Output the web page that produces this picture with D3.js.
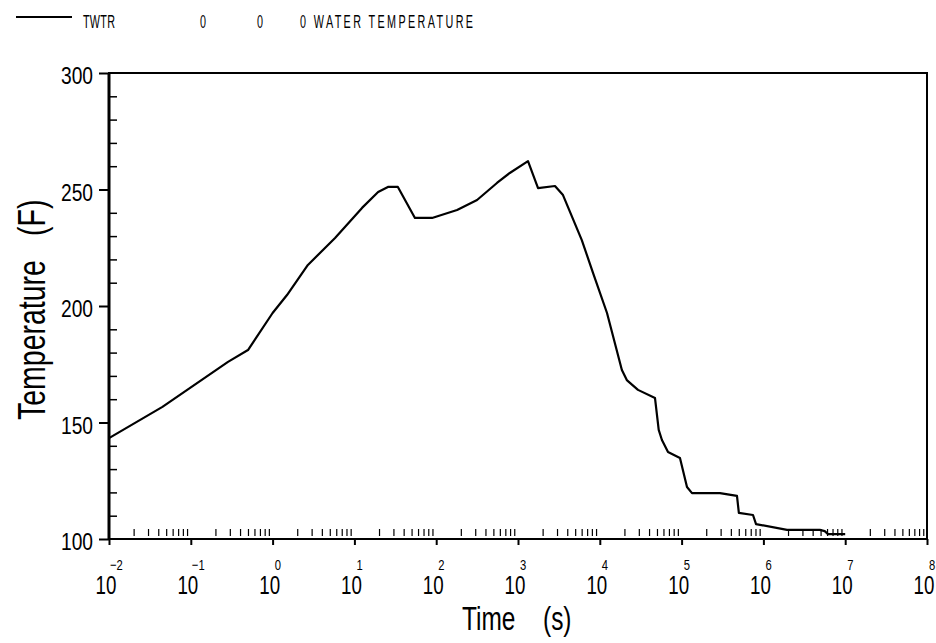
<!DOCTYPE html>
<html>
<head>
<meta charset="utf-8">
<script src="https://cdn.jsdelivr.net/npm/d3@7"></script>
<style>
  body { margin: 0; background: #fff; }
  svg { display: block; }
  text { font-family: "Liberation Sans", Arial, sans-serif; fill: #000; }
</style>
</head>
<body>
<svg id="chart" width="936" height="643"></svg>
<script>
// time (s), water temperature (F)
const timeValues = [0.01, 0.045, 0.285, 0.5, 1.0, 1.5, 2.7, 5.8, 12.4, 19.5, 25.7, 34,
  55, 89, 180, 316, 553, 794, 1325, 1758, 2831, 3548, 6026, 8260, 12250, 18620, 21380,
  29300, 47300, 52500, 57500, 68200, 95500, 116400, 134000, 294400, 475300, 501200,
  746400, 812800, 1945000, 4898000, 5620000, 6166000, 10000000]
const tempValues = [143.3, 156.7, 176.0, 181.1, 197.0, 204.7, 217.6, 229.2, 242.1, 248.9, 251.1, 251.1,
  237.8, 237.8, 241.2, 245.5, 252.8, 257.1, 262.2, 250.6, 251.5, 247.6, 228.3, 214.2, 197.0, 172.5, 168.2,
  164.0, 160.5, 146.8, 142.5, 137.3, 134.8, 122.3, 119.7, 119.7, 118.5, 111.2,
  110.3, 106.4, 103.9, 103.9, 103.4, 102.1, 102.1]

const yMajor = [100, 150, 200, 250, 300]
const yMinor = [110, 120, 130, 140, 160, 170, 180, 190, 210, 220, 230, 240, 260, 270, 280, 290]
const xExponents = [-2, -1, 0, 1, 2, 3, 4, 5, 6, 7, 8]
const xMinorMult = [2, 3, 4, 5, 6, 7, 8, 9]

const legendLabels = ['TWTR', '0', '0', '0 WATER TEMPERATURE']

const PLOT = {left: 109, right: 927, top: 73, bottom: 539}
const SQUEEZE = 0.72   // the plotter font is much narrower than Arial
const XS = 0.75        // squeeze for the 10^n labels

let svg = d3.select('#chart')

let x = d3.scaleLog()
  .domain([1e-2, 1e8])
  .range([PLOT.left, PLOT.right])

let y = d3.scaleLinear()
  .domain([100, 300])
  .range([PLOT.bottom, PLOT.top])

// legend / header line
svg.append('line')
  .attr('x1', 16).attr('x2', 72)
  .attr('y1', 17).attr('y2', 17)
  .attr('stroke', '#000')
  .attr('stroke-width', 2)

let legendX = [83, 200, 257, 300]
let legendW = [32, 7, 7, 173]
svg.selectAll('.legend')
  .data(legendLabels)
  .enter().append('text')
  .attr('class', 'legend')
  .attr('transform', 'scale(0.6,1)')
  .attr('x', (d, i) => legendX[i] / 0.6)
  .attr('y', 28)
  .attr('font-size', 18)
  .attr('textLength', (d, i) => legendW[i] / 0.6)
  .attr('lengthAdjust', 'spacing')
  .text(d => d)

// frame
svg.append('rect')
  .attr('x', PLOT.left).attr('y', PLOT.top)
  .attr('width', PLOT.right - PLOT.left)
  .attr('height', PLOT.bottom - PLOT.top)
  .attr('fill', 'none')
  .attr('stroke', '#000')
  .attr('stroke-width', 2)

svg.append('line')
  .attr('x1', PLOT.left).attr('x2', PLOT.left)
  .attr('y1', PLOT.top).attr('y2', PLOT.bottom)
  .attr('stroke', '#000')
  .attr('stroke-width', 3)

// y axis, majors outside with labels
let yAxis = svg.append('g')
  .attr('transform', 'translate(' + PLOT.left + ',0)')
  .call(d3.axisLeft(y).tickValues(yMajor).tickSize(10).tickPadding(5).tickFormat(d3.format('d')))
yAxis.select('.domain').remove()
yAxis.selectAll('.tick line').attr('stroke-width', 2)
yAxis.selectAll('text')
  .attr('font-size', 24)
  .attr('font-family', '"Liberation Sans", Arial, sans-serif')
  .attr('x', -16 / 0.8)
  .attr('transform', 'scale(0.8,1)')
  .attr('dy', '0.45em')

// y minor ticks inside
let yMinorAxis = svg.append('g')
  .attr('transform', 'translate(' + PLOT.left + ',0)')
  .call(d3.axisRight(y).tickValues(yMinor).tickSize(8).tickFormat(''))
yMinorAxis.select('.domain').remove()
yMinorAxis.selectAll('.tick line').attr('stroke-width', 1.5)

// x axis major ticks
let xMajor = xExponents.map(e => Math.pow(10, e))
let xAxis = svg.append('g')
  .attr('transform', 'translate(0,' + PLOT.bottom + ')')
  .call(d3.axisBottom(x).tickValues(xMajor).tickSize(6).tickFormat(''))
xAxis.select('.domain').remove()
xAxis.selectAll('.tick line').attr('stroke-width', 2)

// x minor ticks, a little above the axis line
let xMinor = []
xExponents.slice(0, -1).forEach(e => {
  xMinorMult.forEach(m => xMinor.push(m * Math.pow(10, e)))
})
let xMinorAxis = svg.append('g')
  .attr('transform', 'translate(0,' + (PLOT.bottom - 3) + ')')
  .call(d3.axisTop(x).tickValues(xMinor).tickSize(7).tickFormat(''))
xMinorAxis.select('.domain').remove()
xMinorAxis.selectAll('.tick line').attr('stroke-width', 1.2)

// x tick labels: 10 with raised exponent, one text each
let xl = svg.selectAll('.xlab')
  .data(xExponents)
  .enter().append('text')
  .attr('class', 'xlab')
  .attr('transform', d => 'translate(' + x(Math.pow(10, d)) + ',0) scale(' + XS + ',1)')
  .attr('x', -13.4 / XS)
  .attr('y', 594)
  .attr('font-size', 25)

xl.append('tspan')
  .text('10')

xl.append('tspan')
  .attr('dx', d => (d < 0 ? -6.4 : -5.4) / XS)
  .attr('dy', -24)
  .attr('font-size', 15)
  .text(d => d < 0 ? '\u2212' + (-d) : d)

// axis titles
svg.append('text')
  .attr('x', 462 / SQUEEZE)
  .attr('y', 630)
  .attr('font-size', 34)
  .attr('transform', 'scale(' + SQUEEZE + ',1)')
  .text('Time')

svg.append('text')
  .attr('x', 543 / SQUEEZE)
  .attr('y', 630)
  .attr('font-size', 34)
  .attr('transform', 'scale(' + SQUEEZE + ',1)')
  .text('(s)')

svg.append('text')
  .attr('transform', 'translate(45,420) rotate(-90) scale(0.75,1)')
  .attr('font-size', 38)
  .text('Temperature')

svg.append('text')
  .attr('transform', 'translate(45,236) rotate(-90) scale(0.75,1)')
  .attr('font-size', 38)
  .text('(F)')

// the curve
let series = timeValues.map((t, i) => ({t: t, v: tempValues[i]}))

let line = d3.line()
  .x(d => x(d.t))
  .y(d => y(d.v))

svg.append('path')
  .datum(series)
  .attr('d', line)
  .attr('fill', 'none')
  .attr('stroke', '#000')
  .attr('stroke-width', 2.2)
  .attr('stroke-linejoin', 'round')
</script>
</body>
</html>
